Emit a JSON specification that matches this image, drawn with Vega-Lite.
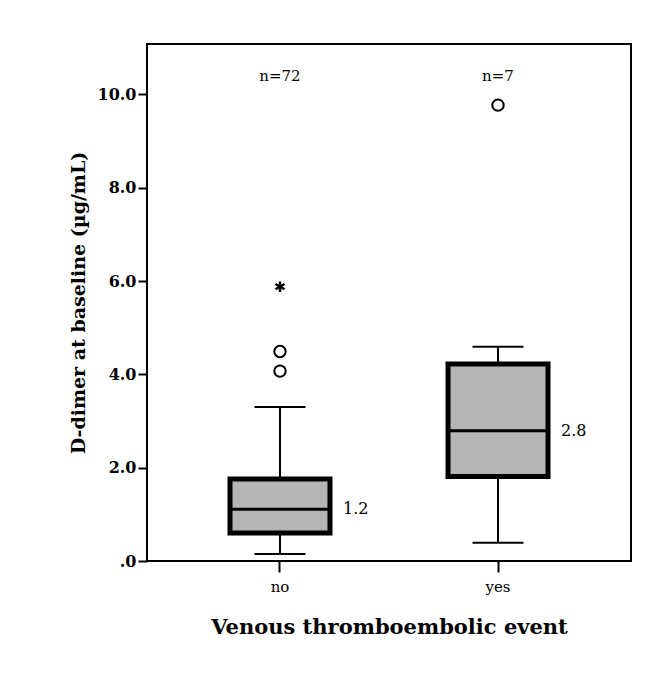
{
  "$schema": "https://vega.github.io/schema/vega-lite/v6.json",
  "autosize": "none",
  "width": 484,
  "height": 517,
  "padding": {"left": 147, "top": 44, "right": 35, "bottom": 112},
  "background": "white",
  "config": {
    "view": {"stroke": "black", "strokeWidth": 2},
    "font": "DejaVu Serif",
    "axis": {
      "domain": false,
      "grid": false,
      "tickColor": "black",
      "tickWidth": 2,
      "labelColor": "black",
      "titleColor": "black",
      "labelFont": "DejaVu Serif",
      "titleFont": "DejaVu Serif"
    }
  },
  "datasets": {
    "boxes": [
      {"group": "no", "lower": 0.15, "q1": 0.6, "median": 1.11, "q3": 1.76, "upper": 3.3, "label": "1.2", "n": "n=72"},
      {"group": "yes", "lower": 0.39, "q1": 1.81, "median": 2.79, "q3": 4.22, "upper": 4.59, "label": "2.8", "n": "n=7"}
    ],
    "outliers": [
      {"group": "no", "value": 4.49, "kind": "outlier"},
      {"group": "no", "value": 4.07, "kind": "outlier"},
      {"group": "no", "value": 5.88, "kind": "extreme"},
      {"group": "yes", "value": 9.77, "kind": "outlier"}
    ]
  },
  "encoding": {
    "x": {
      "field": "group",
      "type": "nominal",
      "scale": {"type": "band", "domain": ["no", "yes"], "paddingInner": 0, "paddingOuter": 0.11},
      "axis": {
        "title": "Venous thromboembolic event",
        "titleFontSize": 21,
        "titleFontWeight": "bold",
        "titlePadding": 22,
        "labelFontSize": 15,
        "labelFontWeight": "normal",
        "labelAngle": 0,
        "tickSize": 11,
        "labelPadding": 7
      }
    }
  },
  "layer": [
    {
      "data": {"name": "boxes"},
      "mark": {"type": "rule", "color": "black", "strokeWidth": 2, "opacity": 1},
      "encoding": {
        "y": {
          "field": "lower",
          "type": "quantitative",
          "scale": {"domain": [0, 11.08], "nice": false, "zero": true},
          "axis": {
            "title": "D-dimer at baseline (µg/mL)",
            "titleFontSize": 19,
            "titleFontWeight": "bold",
            "titlePadding": 9,
            "values": [0, 2, 4, 6, 8, 10],
            "format": ".1f",
            "labelExpr": "datum.value == 0 ? '.0' : datum.label",
            "labelFontSize": 16,
            "labelFontWeight": "bold",
            "tickSize": 9,
            "labelPadding": 2
          }
        },
        "y2": {"field": "upper"}
      }
    },
    {
      "data": {"name": "boxes"},
      "mark": {"type": "tick", "color": "black", "thickness": 2, "size": 51, "opacity": 1},
      "encoding": {"y": {"field": "lower", "type": "quantitative"}}
    },
    {
      "data": {"name": "boxes"},
      "mark": {"type": "tick", "color": "black", "thickness": 2, "size": 51, "opacity": 1},
      "encoding": {"y": {"field": "upper", "type": "quantitative"}}
    },
    {
      "data": {"name": "boxes"},
      "mark": {"type": "bar", "width": 100, "fill": "#b5b5b5", "stroke": "black", "strokeWidth": 5, "opacity": 1},
      "encoding": {
        "y": {"field": "q1", "type": "quantitative"},
        "y2": {"field": "q3"}
      }
    },
    {
      "data": {"name": "boxes"},
      "mark": {"type": "tick", "color": "black", "thickness": 3, "size": 100, "opacity": 1},
      "encoding": {"y": {"field": "median", "type": "quantitative"}}
    },
    {
      "data": {"name": "boxes"},
      "mark": {"type": "text", "align": "left", "baseline": "middle", "dx": 63, "fontSize": 16, "color": "black"},
      "encoding": {
        "y": {"field": "median", "type": "quantitative"},
        "text": {"field": "label"}
      }
    },
    {
      "data": {"name": "boxes"},
      "mark": {"type": "text", "align": "center", "baseline": "middle", "fontSize": 15, "fontWeight": "normal", "color": "black"},
      "encoding": {
        "y": {"datum": 10.4},
        "text": {"field": "n"}
      }
    },
    {
      "data": {"name": "outliers"},
      "transform": [{"filter": "datum.kind == 'outlier'"}],
      "mark": {"type": "point", "shape": "circle", "filled": false, "stroke": "black", "strokeWidth": 2, "size": 130, "opacity": 1},
      "encoding": {"y": {"field": "value", "type": "quantitative"}}
    },
    {
      "data": {"name": "outliers"},
      "transform": [{"filter": "datum.kind == 'extreme'"}],
      "mark": {"type": "point", "shape": "M0,-1L0,1M-0.87,-0.5L0.87,0.5M-0.87,0.5L0.87,-0.5", "filled": false, "stroke": "black", "strokeWidth": 2.5, "size": 110, "opacity": 1},
      "encoding": {"y": {"field": "value", "type": "quantitative"}}
    }
  ]
}
